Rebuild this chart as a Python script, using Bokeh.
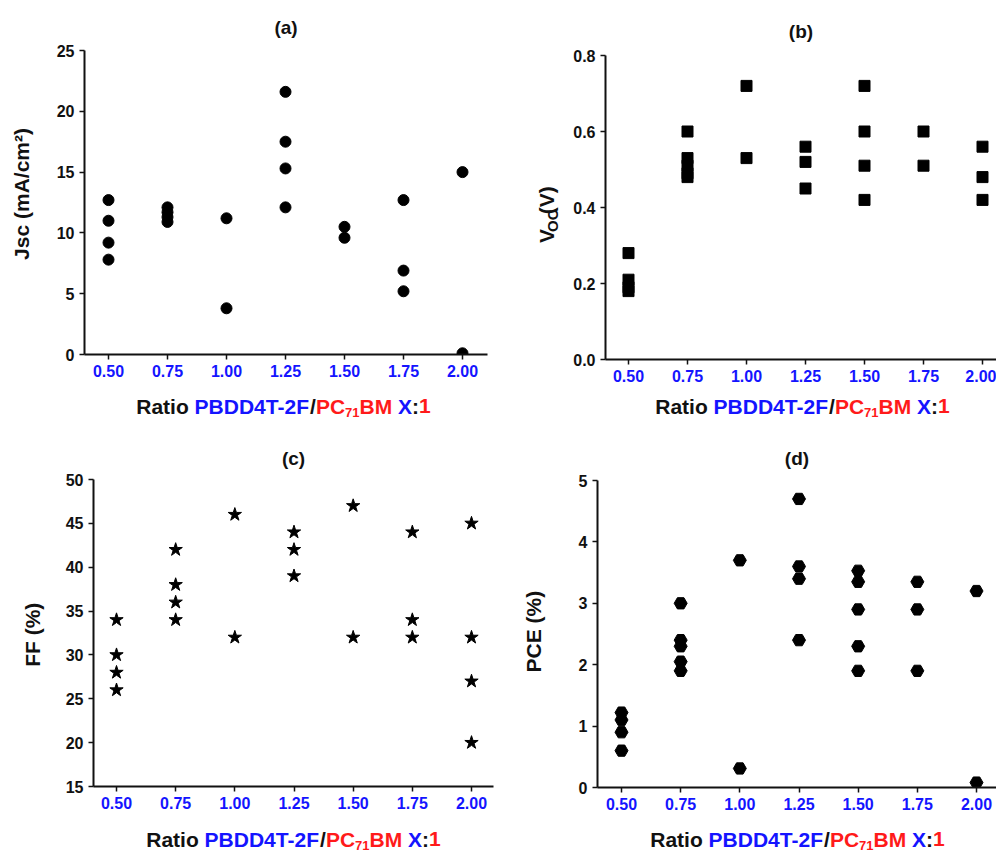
import math
from bokeh.plotting import figure
from bokeh.models import FixedTicker, PrintfTickFormatter, Range1d, ColumnDataSource
from bokeh.core.properties import value
from bokeh.layouts import column, row
from bokeh.embed import file_html
from bokeh.resources import INLINE

# ---------------- data ----------------
ratio_ticks = [0.50, 0.75, 1.00, 1.25, 1.50, 1.75, 2.00]

jsc_x = [0.50, 0.50, 0.50, 0.50, 0.75, 0.75, 0.75, 0.75, 1.00, 1.00,
         1.25, 1.25, 1.25, 1.25, 1.50, 1.50, 1.75, 1.75, 1.75, 2.00, 2.00]
jsc_y = [12.7, 11.0, 9.2, 7.8, 12.1, 11.7, 11.3, 10.9, 11.2, 3.8,
         21.6, 17.5, 15.3, 12.1, 10.5, 9.6, 12.7, 6.9, 5.2, 15.0, 0.1]

voc_x = [0.50, 0.50, 0.50, 0.50, 0.75, 0.75, 0.75, 0.75, 0.75, 1.00, 1.00,
         1.25, 1.25, 1.25, 1.50, 1.50, 1.50, 1.50, 1.75, 1.75, 2.00, 2.00, 2.00]
voc_y = [0.28, 0.21, 0.19, 0.18, 0.60, 0.53, 0.51, 0.49, 0.48, 0.72, 0.53,
         0.56, 0.52, 0.45, 0.72, 0.60, 0.51, 0.42, 0.60, 0.51, 0.56, 0.48, 0.42]

ff_x = [0.50, 0.50, 0.50, 0.50, 0.75, 0.75, 0.75, 0.75, 1.00, 1.00,
        1.25, 1.25, 1.25, 1.50, 1.50, 1.75, 1.75, 1.75, 2.00, 2.00, 2.00, 2.00]
ff_y = [34, 30, 28, 26, 42, 38, 36, 34, 46, 32,
        44, 42, 39, 47, 32, 44, 34, 32, 45, 32, 27, 20]

pce_x = [0.50, 0.50, 0.50, 0.50, 0.75, 0.75, 0.75, 0.75, 0.75, 1.00, 1.00,
         1.25, 1.25, 1.25, 1.25, 1.50, 1.50, 1.50, 1.50, 1.50,
         1.75, 1.75, 1.75, 2.00, 2.00]
pce_y = [1.22, 1.10, 0.90, 0.60, 3.00, 2.40, 2.30, 2.05, 1.90, 3.70, 0.31,
         4.70, 3.60, 3.40, 2.40, 3.53, 3.35, 2.90, 2.30, 1.90,
         3.35, 2.90, 1.90, 3.20, 0.08]

jsc_ticks = [0, 5, 10, 15, 20, 25]
voc_ticks = [0.0, 0.2, 0.4, 0.6, 0.8]
ff_ticks = [15, 20, 25, 30, 35, 40, 45, 50]
pce_ticks = [0, 1, 2, 3, 4, 5]

titles = ["(a)", "(b)", "(c)", "(d)"]

# ---------------- style ----------------
FONT = "Liberation Sans"
BLUE = "#1414ff"
RED = "#ff1a1a"
BLACK = "#111111"

# Arial / Liberation Sans Bold advance widths (per 1000 em)
W = {' ': 278, 'R': 722, 'a': 556, 't': 333, 'i': 278, 'o': 611, 'P': 667,
     'B': 722, 'D': 722, '4': 556, 'T': 611, '-': 333, '2': 556, 'F': 611,
     '/': 278, 'C': 722, '7': 556, '1': 556, 'M': 833, 'X': 667, ':': 333,
     'V': 667, '(': 333, ')': 333, 'O': 778}


def text_width(s, size):
    return sum(W.get(c, 600) for c in s) * size / 1000.0


def blank_fig(w, h):
    f = figure(width=w, height=h, output_backend="svg", toolbar_location=None,
               x_range=Range1d(0, w), y_range=Range1d(0, h),
               x_axis_type=None, y_axis_type=None,
               min_border=0, min_border_left=0, min_border_right=0,
               min_border_top=0, min_border_bottom=0)
    f.outline_line_color = None
    f.grid.visible = False
    f.background_fill_color = "white"
    f.border_fill_color = "white"
    return f


# (text, colour, font px, baseline shift px)
XLABEL_PARTS = [("Ratio ", BLACK, 21, 0), ("PBDD4T-2F", BLUE, 21, 0),
                ("/", BLACK, 21, 0), ("PC", RED, 21, 0), ("71", RED, 13, 3),
                ("BM", RED, 21, 0), (" X", BLUE, 21, 0), (":", BLACK, 21, 0),
                ("1", RED, 21, 0)]
MID = 0.345  # cap-centre height above baseline, in em


def make_panel(g, xs, ys, marker, msize, yticks, yfmt, title, ylabel_parts):
    rx0, ry0 = g["origin"]
    rx1 = g["right"]
    mb = g["main_bottom"]
    xb = g["xlab_bottom"]
    yl_w = g["ylab_w"]
    fl, fr, ft, fb = g["frame"]
    p050, p200 = g["ticks_px"]

    ppu = (p200 - p050) / 1.5
    x0 = 0.5 - (p050 - fl) / ppu
    x1 = 0.5 + (fr - p050) / ppu
    y0, y1 = yticks[0], yticks[-1]

    main_l = rx0 + yl_w
    p = figure(width=rx1 - main_l, height=mb - ry0, output_backend="svg",
               toolbar_location=None,
               x_range=Range1d(x0, x1), y_range=Range1d(y0, y1),
               min_border_left=fl - main_l, min_border_right=rx1 - fr,
               min_border_top=ft - ry0, min_border_bottom=mb - fb)
    p.outline_line_color = None
    p.grid.visible = False
    p.background_fill_color = "white"
    p.border_fill_color = "white"

    p.title.text = title
    p.title.align = "center"
    p.title.text_font = FONT
    p.title.text_font_style = "bold"
    p.title.text_font_size = "19px"
    p.title.text_color = BLACK
    p.title.standoff = g["title_standoff"]

    p.scatter(xs, ys, marker=marker, size=msize, fill_color="black",
              line_color="black")

    for ax in (p.xaxis[0], p.yaxis[0]):
        ax.axis_line_width = 2
        ax.axis_line_color = BLACK
        ax.major_tick_line_width = 1.5
        ax.major_tick_line_color = BLACK
        ax.major_tick_in = 0
        ax.major_tick_out = 5
        ax.minor_tick_line_color = None
        ax.major_label_text_font = FONT
        ax.major_label_text_font_style = "bold"
        ax.major_label_text_font_size = "16px"

    p.xaxis.ticker = FixedTicker(ticks=ratio_ticks)
    p.xaxis.formatter = PrintfTickFormatter(format="%.2f")
    p.xaxis.major_label_text_color = BLUE
    p.xaxis.major_label_standoff = 5
    p.yaxis.ticker = FixedTicker(ticks=yticks)
    p.yaxis.formatter = PrintfTickFormatter(format=yfmt)
    p.yaxis.major_label_text_color = BLACK
    p.yaxis.major_label_standoff = 5

    # ---- y label strip (rotated text, reads bottom to top) ----
    ylf = blank_fig(yl_w, mb - ry0)
    ycx, ycy = g["ylabel"]
    base_x = ycx + MID * 21          # baseline of the main-size text
    total = sum(text_width(s, fs) for s, fs, _ in ylabel_parts)
    cur = ycy + total / 2.0
    tx, ty, tt, ts = [], [], [], []
    for s, fs, sh in ylabel_parts:
        tx.append(base_x + sh - MID * fs - rx0)
        ty.append(mb - cur)
        tt.append(s)
        ts.append(f"{fs}px")
        cur -= text_width(s, fs)
    ylf.text(x="x", y="y", text="t", text_font_size="s",
             source=ColumnDataSource(dict(x=tx, y=ty, t=tt, s=ts)),
             text_font=value(FONT), text_font_style="bold",
             text_color=BLACK, text_align="left", text_baseline="middle",
             angle=math.pi / 2)

    # ---- x label strip (multi-coloured text) ----
    xlf = blank_fig(rx1 - rx0, xb - mb)
    cx, base = g["xlabel"]
    total = sum(text_width(s, fs) for s, _, fs, _ in XLABEL_PARTS)
    cur = cx - total / 2.0
    tx, ty, tt, ts, tc = [], [], [], [], []
    for s, col, fs, sh in XLABEL_PARTS:
        lead = len(s) - len(s.lstrip())
        tx.append(cur + text_width(s[:lead], fs) - rx0)
        ty.append(xb - (base + sh - MID * fs))
        tt.append(s.strip())
        ts.append(f"{fs}px")
        tc.append(col)
        cur += text_width(s, fs)
    xlf.text(x="x", y="y", text="t", text_font_size="s", text_color="c",
             source=ColumnDataSource(dict(x=tx, y=ty, t=tt, s=ts, c=tc)),
             text_font=value(FONT), text_font_style="bold",
             text_align="left", text_baseline="middle")

    return column(row(ylf, p), xlf)


# page geometry (page pixels, origin = top-left of the page content)
geom_a = dict(origin=(0, 0), right=500, main_bottom=388, xlab_bottom=420, ylab_w=45,
              frame=(84, 487, 50, 354), ticks_px=(108, 462), title_standoff=25,
              xlabel=(283, 413), ylabel=(21, 204))
geom_b = dict(origin=(500, 0), right=996, main_bottom=388, xlab_bottom=420, ylab_w=65,
              frame=(605, 996, 55, 359), ticks_px=(628, 982), title_standoff=28,
              xlabel=(802, 413), ylabel=(546, 207))
geom_c = dict(origin=(0, 420), right=500, main_bottom=820, xlab_bottom=853, ylab_w=50,
              frame=(93, 493, 479, 786), ticks_px=(116, 471), title_standoff=22,
              xlabel=(293, 846), ylabel=(32, 635))
geom_d = dict(origin=(500, 420), right=996, main_bottom=820, xlab_bottom=853, ylab_w=55,
              frame=(597, 996, 480, 787), ticks_px=(621, 976), title_standoff=23,
              xlabel=(797, 846), ylabel=(533, 633))

pa = make_panel(geom_a, jsc_x, jsc_y, "circle", 11, jsc_ticks, "%d", titles[0],
                [("Jsc (mA/cm\u00b2)", 21, 0)])
pb = make_panel(geom_b, voc_x, voc_y, "square", 11, voc_ticks, "%.1f", titles[1],
                [("V", 21, 0), ("OC", 15, 4), ("(V)", 21, 0)])
pc = make_panel(geom_c, ff_x, ff_y, "star", 14, ff_ticks, "%d", titles[2],
                [("FF (%)", 21, 0)])
pd = make_panel(geom_d, pce_x, pce_y, "hex", 13, pce_ticks, "%d", titles[3],
                [("PCE (%)", 21, 0)])

layout = column(row(pa, pb), row(pc, pd))
open("out.html", "w").write(file_html(layout, INLINE))
